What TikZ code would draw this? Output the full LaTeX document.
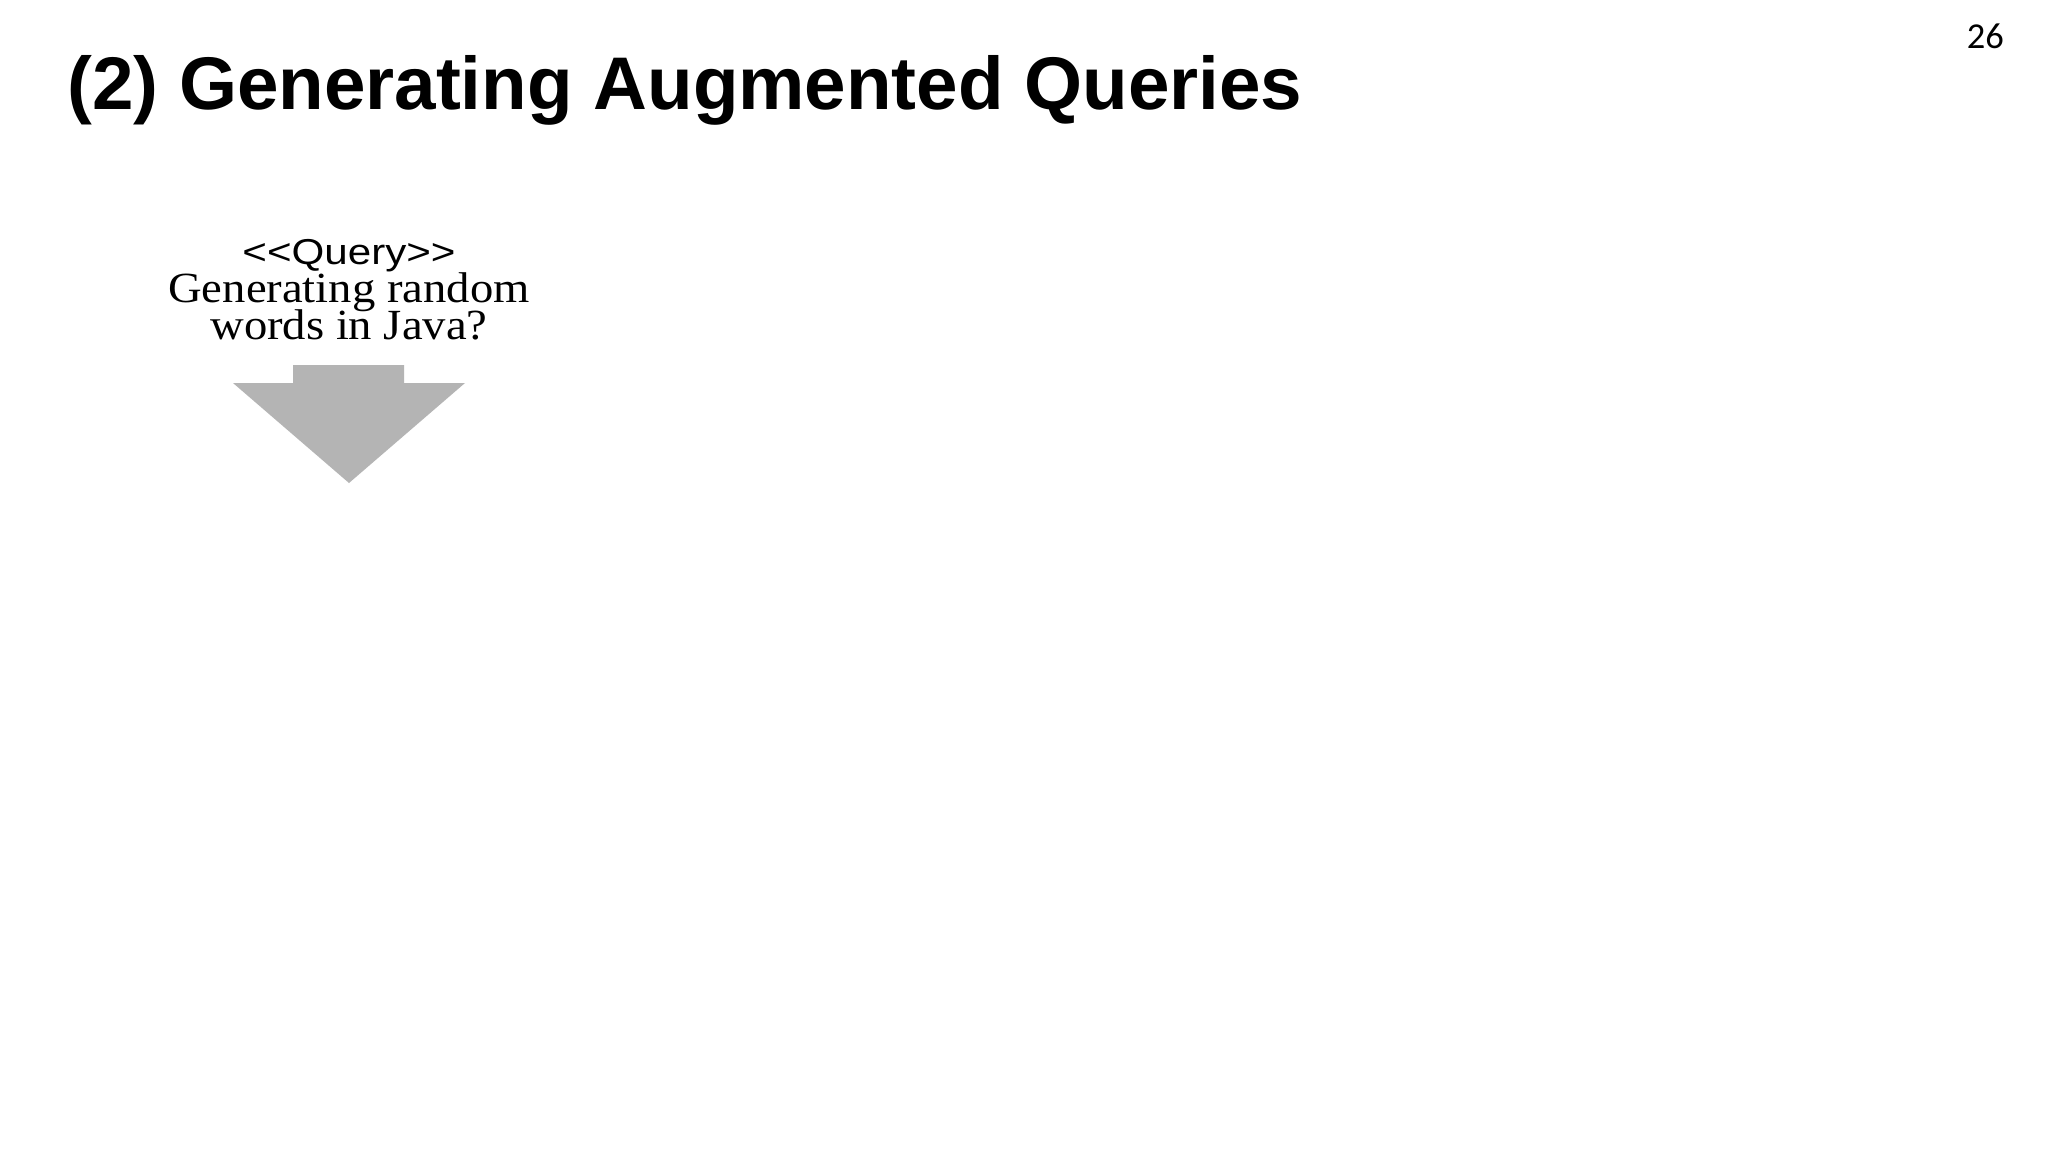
\documentclass[tikz,border=0pt]{standalone}
\usepackage{fontspec}
\setmainfont{Liberation Serif}
\setsansfont{Liberation Sans}
\newfontfamily\pagenumfont{Carlito}
\newfontfamily\widesans[FakeStretch=1.17]{Liberation Sans}
\newfontfamily\wideserif[FakeStretch=1.085]{Liberation Serif}
\definecolor{arrowgray}{RGB}{180,180,180}
\begin{document}
\begin{tikzpicture}[x=1pt,y=-1pt,
  titletext/.style={inner sep=0pt,font=\sffamily\bfseries\fontsize{74.6}{80}\selectfont},
  pagenum/.style={inner sep=0pt,font=\pagenumfont\fontsize{36.5}{40}\selectfont},
  stereotype/.style={inner sep=0pt,font=\widesans\fontsize{36}{40}\selectfont},
  querytext/.style={inner sep=0pt,font=\wideserif\fontsize{43}{40}\selectfont},
  bigarrow/.style={fill=arrowgray,draw=none}]
\useasboundingbox[fill=white] (0,0) rectangle (2048,1152);
\node[titletext,anchor=base west] (title) at (67,109) {(2) Generating Augmented Queries};
\node[pagenum,anchor=base east] (page) at (2004,48) {26};
\node[stereotype,anchor=base] (q1) at (349,264) {<{}<Query>{}>};
\node[querytext,anchor=base] (q2) at (349,302) {Generating random};
\node[querytext,anchor=base] (q3) at (349,339) {words in Java?};
\fill[bigarrow] (293,365) -- (404,365) -- (404,383) -- (465,383) -- (349,483) -- (233,383) -- (293,383) -- cycle;
\end{tikzpicture}
\end{document}
